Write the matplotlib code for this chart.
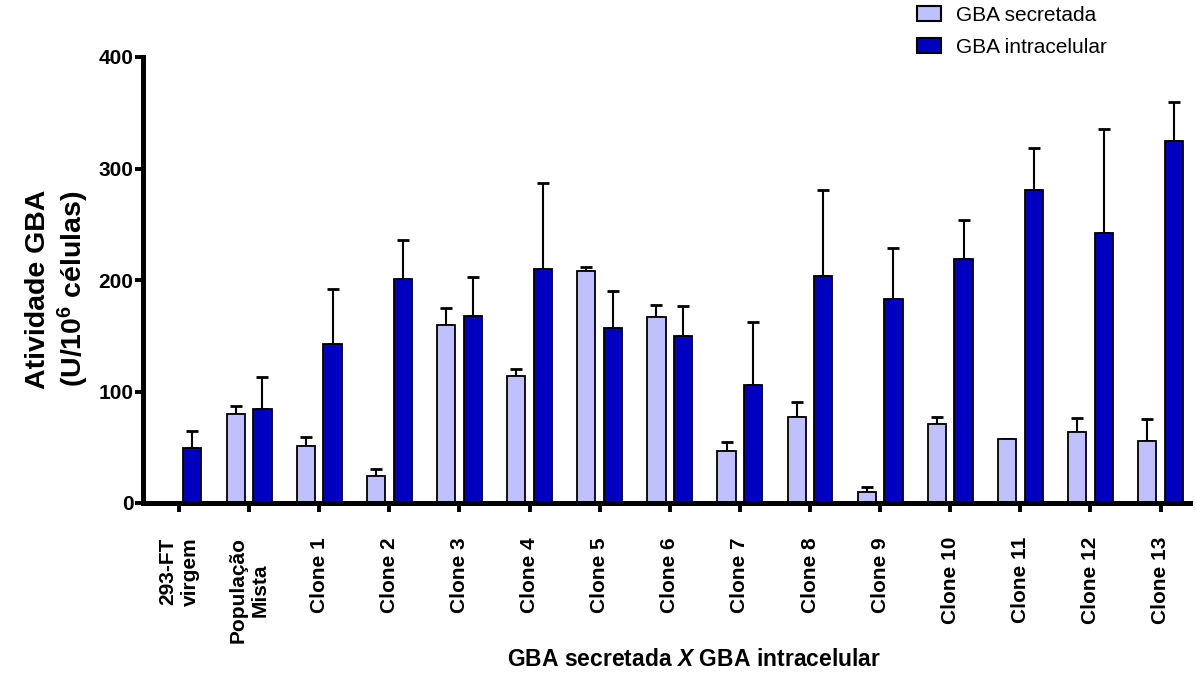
import numpy as np
import matplotlib
matplotlib.use("Agg")
import matplotlib.pyplot as plt
from matplotlib.patches import Patch

plt.rcParams['font.family'] = ['Liberation Sans', 'DejaVu Sans']
plt.rcParams['mathtext.fontset'] = 'custom'
plt.rcParams['mathtext.rm'] = 'Liberation Sans:bold'
plt.rcParams['mathtext.bf'] = 'Liberation Sans:bold'
plt.rcParams['mathtext.it'] = 'Liberation Sans:bold:italic'
plt.rcParams['mathtext.default'] = 'bf'

groups = ['293-FT\nvirgem', 'População\nMista', 'Clone 1', 'Clone 2', 'Clone 3',
          'Clone 4', 'Clone 5', 'Clone 6', 'Clone 7', 'Clone 8', 'Clone 9',
          'Clone 10', 'Clone 11', 'Clone 12', 'Clone 13']

# mean activity and upper SD, U/10^6 cells
secretada = [0, 80, 51, 24, 160, 114, 208, 167, 47, 77, 10, 71, 57, 64, 56]
secretada_err = [0, 7, 8.5, 6.5, 14.5, 6.5, 3.5, 11, 7.5, 14, 4.5, 6.5, 0.5, 12, 19]
intracelular = [49, 84, 143, 201, 168, 210, 157, 150, 106, 204, 183, 219, 281, 242, 325]
intracelular_err = [16, 29, 49, 35, 35, 77, 33, 27, 56, 77, 46, 35, 37, 93, 35]

light = '#C0C0FF'
dark = '#0000C0'

fig = plt.figure(figsize=(11.96, 6.75), dpi=100)
ax = fig.add_axes([143 / 1196, 1 - 503 / 675, 1047 / 1196, 446 / 675])

x = np.arange(len(groups))
w = 0.26
off = 0.19

ax.bar(x - off, secretada, w, color=light, edgecolor='black', linewidth=1.3, zorder=2)
ax.bar(x + off, intracelular, w, color=dark, edgecolor='black', linewidth=1.3, zorder=2)
ax.errorbar(x - off, secretada, yerr=[np.zeros(len(x)), secretada_err], fmt='none',
            ecolor='black', elinewidth=1.5, capsize=4, capthick=2, zorder=1)
ax.errorbar(x + off, intracelular, yerr=[np.zeros(len(x)), intracelular_err], fmt='none',
            ecolor='black', elinewidth=1.5, capsize=4, capthick=2, zorder=1)

ax.set_xlim(-0.514, 14.42)
ax.set_ylim(0, 400)
ax.set_yticks([0, 100, 200, 300, 400])
ax.set_xticks(x)
ax.set_xticklabels(groups, rotation=90, fontsize=15, fontweight='bold', multialignment='center')
for lab in ax.get_yticklabels():
    lab.set_fontsize(15)
    lab.set_fontweight('bold')

for s in ['top', 'right']:
    ax.spines[s].set_visible(False)
for s in ['left', 'bottom']:
    ax.spines[s].set_linewidth(3.6)
    ax.spines[s].set_capstyle('projecting')
ax.tick_params(axis='y', length=6, width=2.8, pad=1)
ax.tick_params(axis='x', length=6.5, width=2.8, pad=18)

fig.text(58 / 1196, 1 - 289 / 675, 'Atividade GBA\n(U/10$^6$ células)', rotation=90,
         ha='center', va='center', multialignment='center', fontsize=20.5, fontweight='bold')
fig.text(694 / 1196, 1 - 660 / 675, 'GBA secretada $\\mathit{X}$ GBA intracelular',
         ha='center', va='center', fontsize=16.5, fontweight='bold')

handles = [Patch(facecolor=light, edgecolor='black', linewidth=1.5),
           Patch(facecolor=dark, edgecolor='black', linewidth=1.5)]
fig.legend(handles, ['GBA secretada', 'GBA intracelular'], loc='upper left',
           bbox_to_anchor=(917 / 1196, 1 - 6 / 675), frameon=False, fontsize=15,
           handlelength=1.15, handleheight=0.72, handletextpad=0.7, labelspacing=0.62,
           borderpad=0, borderaxespad=0)

fig.savefig('out.png', dpi=100)
